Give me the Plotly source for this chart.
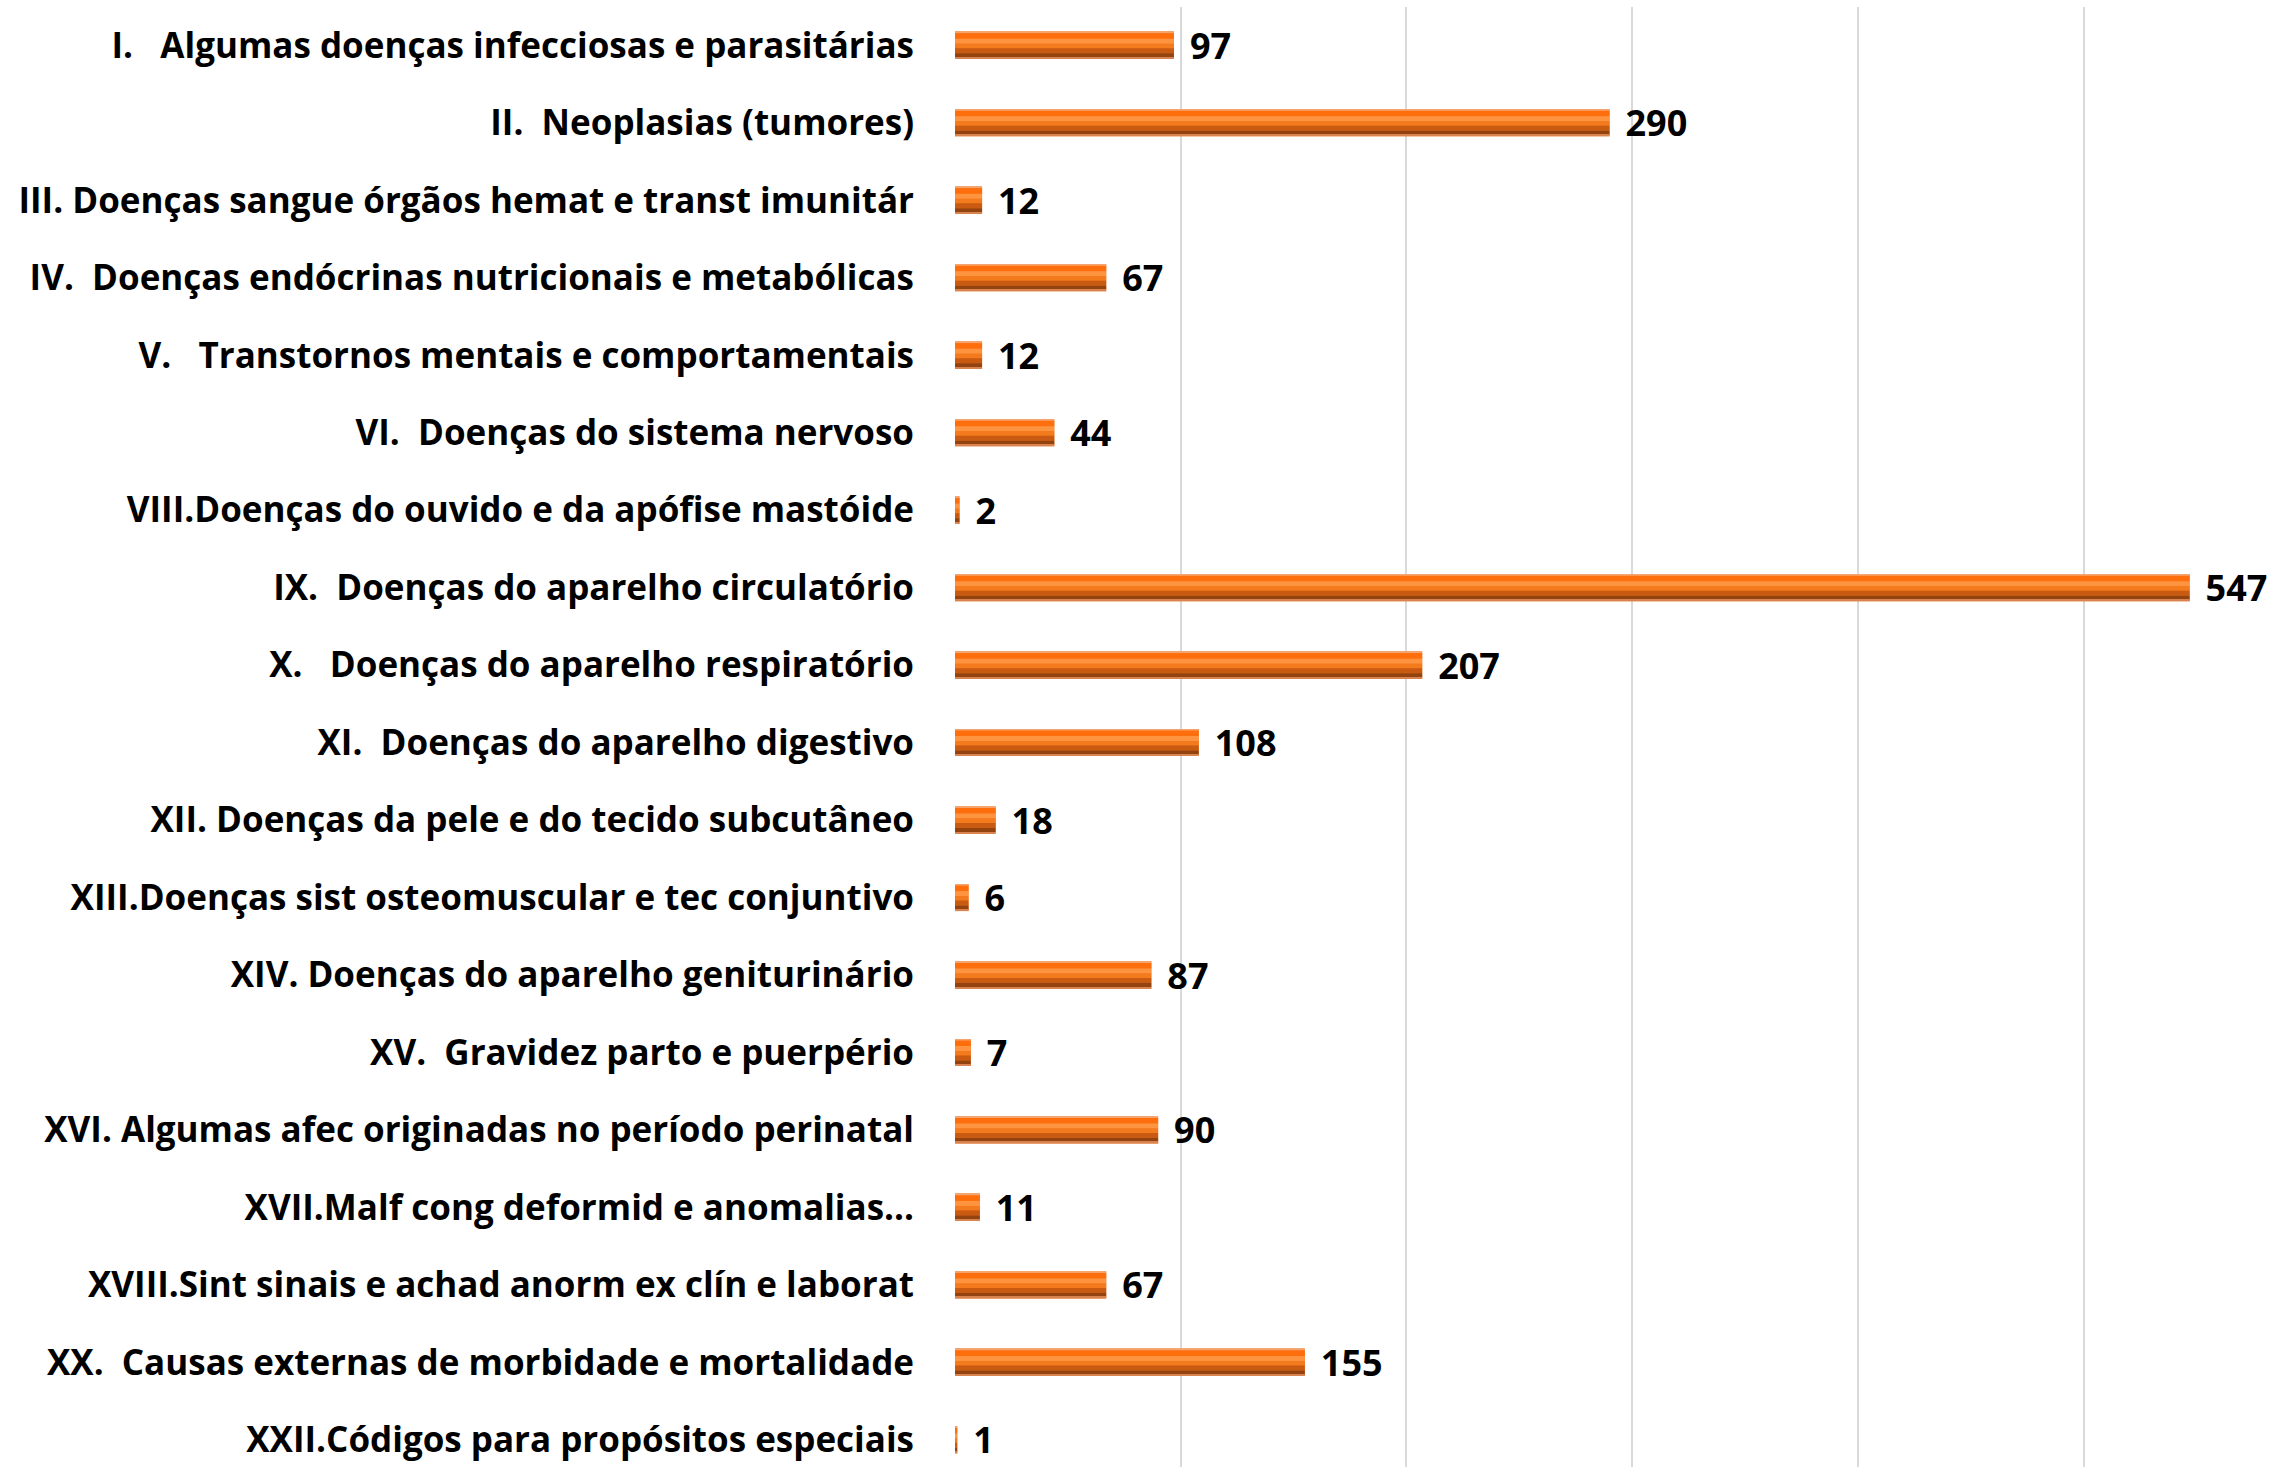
import plotly.graph_objects as go

NB = "\u00a0"
categories = [
    "I." + NB * 3 + "Algumas doenças infecciosas e parasitárias",
    "II." + NB * 2 + "Neoplasias (tumores)",
    "III. Doenças sangue órgãos hemat e transt imunitár",
    "IV." + NB * 2 + "Doenças endócrinas nutricionais e metabólicas",
    "V." + NB * 3 + "Transtornos mentais e comportamentais",
    "VI." + NB * 2 + "Doenças do sistema nervoso",
    "VIII.Doenças do ouvido e da apófise mastóide",
    "IX." + NB * 2 + "Doenças do aparelho circulatório",
    "X." + NB * 3 + "Doenças do aparelho respiratório",
    "XI." + NB * 2 + "Doenças do aparelho digestivo",
    "XII. Doenças da pele e do tecido subcutâneo",
    "XIII.Doenças sist osteomuscular e tec conjuntivo",
    "XIV. Doenças do aparelho geniturinário",
    "XV." + NB * 2 + "Gravidez parto e puerpério",
    "XVI. Algumas afec originadas no período perinatal",
    "XVII.Malf cong deformid e anomalias...",
    "XVIII.Sint sinais e achad anorm ex clín e laborat",
    "XX." + NB * 2 + "Causas externas de morbidade e mortalidade",
    "XXII.Códigos para propósitos especiais",
]
values = [97, 290, 12, 67, 12, 44, 2, 547, 207, 108, 18, 6, 87, 7, 90, 11, 67, 155, 1]

positions = list(range(len(categories)))

ROW_PX = 77.5
BAR_PX = 27.0
# bevel bands: (top px from bar top, bottom px, colour)
bands = [
    (0, 27, "#F07418"),
    (0, 1.5, "#F4A46E"),
    (1.5, 7, "#FF6E0C"),
    (7, 12, "#FF9440"),
    (12, 16.5, "#F47A1E"),
    (16.5, 21.5, "#C95A12"),
    (21.5, 25.5, "#93430F"),
    (25.5, 27, "#D98450"),
]

fig = go.Figure()
bar_top = -BAR_PX / 2 / ROW_PX
for k, (t0, t1, col) in enumerate(bands):
    kw = {}
    if k == 0:
        kw = dict(
            text=values,
            texttemplate=NB + "\u200a%{x}",
            textposition="outside",
            textfont=dict(family="Open Sans", size=36, color="#000000", weight="bold"),
            cliponaxis=False,
            constraintext="none",
        )
    fig.add_trace(go.Bar(
        x=values, y=positions, orientation="h",
        offset=bar_top + t0 / ROW_PX, width=(t1 - t0) / ROW_PX,
        marker=dict(color=col, line=dict(width=0)),
        hoverinfo="skip", showlegend=False, **kw,
    ))

fig.update_layout(
    width=2272, height=1467,
    margin=dict(l=955, r=0, t=7, b=0),
    barmode="overlay",
    plot_bgcolor="white", paper_bgcolor="white",
    font=dict(family="Open Sans", color="#000000"),
)
fig.update_xaxes(
    range=[0, 583.5], dtick=100, tick0=0,
    showgrid=True, gridcolor="#D9D9D9", gridwidth=2,
    zeroline=False, showline=False, showticklabels=False, fixedrange=True,
)
fig.update_yaxes(
    range=[18.35, -0.495],
    tickmode="array", tickvals=positions, ticktext=categories,
    tickfont=dict(family="Open Sans", size=35, color="#000000", weight="bold"),
    showgrid=False, zeroline=False, showline=False, ticks="",
    ticklabelstandoff=40, fixedrange=True,
)

fig.write_html("out.html", config={"displayModeBar": False},
               post_script="document.body.style.margin='0';")
